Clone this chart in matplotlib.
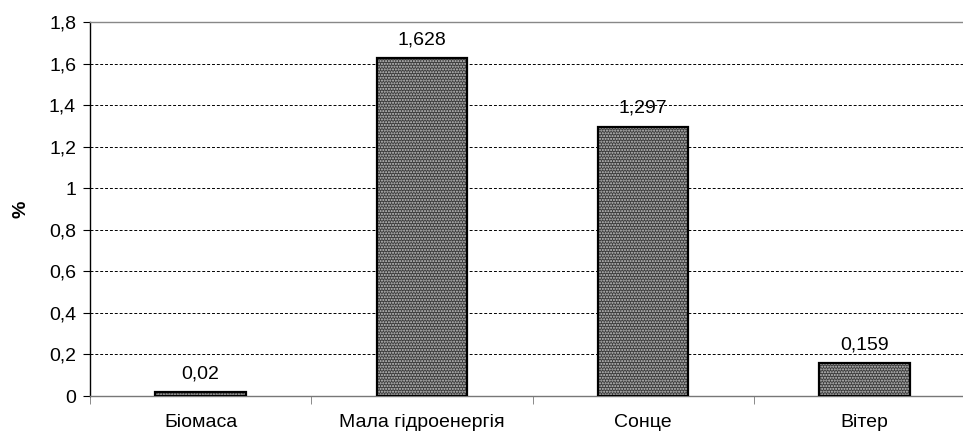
import matplotlib
matplotlib.use("Agg")
import matplotlib.pyplot as plt
from matplotlib.ticker import FixedLocator, FuncFormatter

plt.rcParams['font.family'] = ['Liberation Sans', 'DejaVu Sans']

categories = ["Біомаса", "Мала гідроенергія", "Сонце", "Вітер"]
values = [0.02, 1.628, 1.297, 0.159]
value_labels = ["0,02", "1,628", "1,297", "0,159"]
yticks = [0, 0.2, 0.4, 0.6, 0.8, 1.0, 1.2, 1.4, 1.6, 1.8]

fig = plt.figure(figsize=(9.63, 4.36), dpi=100)
ax = fig.add_axes([90 / 963, 40 / 436, 885 / 963, 374 / 436])

x = list(range(len(categories)))
# hatched fill, then a black outline on top
ax.bar(x, values, width=0.41, color="#3c3c3c", hatch="......",
       edgecolor="#c8c8c8", linewidth=0, zorder=3)
ax.bar(x, values, width=0.41, fill=False, edgecolor="black",
       linewidth=1.6, zorder=4)

for xi, v, lab in zip(x, values, value_labels):
    ax.annotate(lab, (xi, v), xytext=(0, 7), textcoords="offset points",
                ha="center", va="bottom", fontsize=14, color="black")

ax.set_xlim(-0.5, len(categories) - 0.5)
ax.set_ylim(0, 1.8)
ax.yaxis.set_major_locator(FixedLocator(yticks))
ax.yaxis.set_major_formatter(FuncFormatter(
    lambda v, p: ("%g" % round(v, 1)).replace(".", ",")))
ax.yaxis.grid(True, linestyle=(0, (3, 2)), color="black", linewidth=0.7, zorder=1)
ax.set_axisbelow(True)

ax.set_xticks(x)
ax.set_xticklabels(categories, fontsize=14)
ax.tick_params(axis="x", length=0, pad=13)
ax.set_xticks([i + 0.5 for i in range(-1, len(categories))], minor=True)
ax.tick_params(axis="x", which="minor", length=6, direction="out", color="#777777")
ax.tick_params(axis="y", labelsize=14, length=5, direction="out", pad=5)

ax.set_ylabel("%", fontsize=14, fontweight="bold", labelpad=14)

ax.spines["right"].set_visible(False)
ax.spines["top"].set_color("#888888")
ax.spines["bottom"].set_color("#777777")
ax.spines["left"].set_color("black")
for s in ax.spines.values():
    s.set_linewidth(1.0)

fig.savefig("out.png", dpi=100)
